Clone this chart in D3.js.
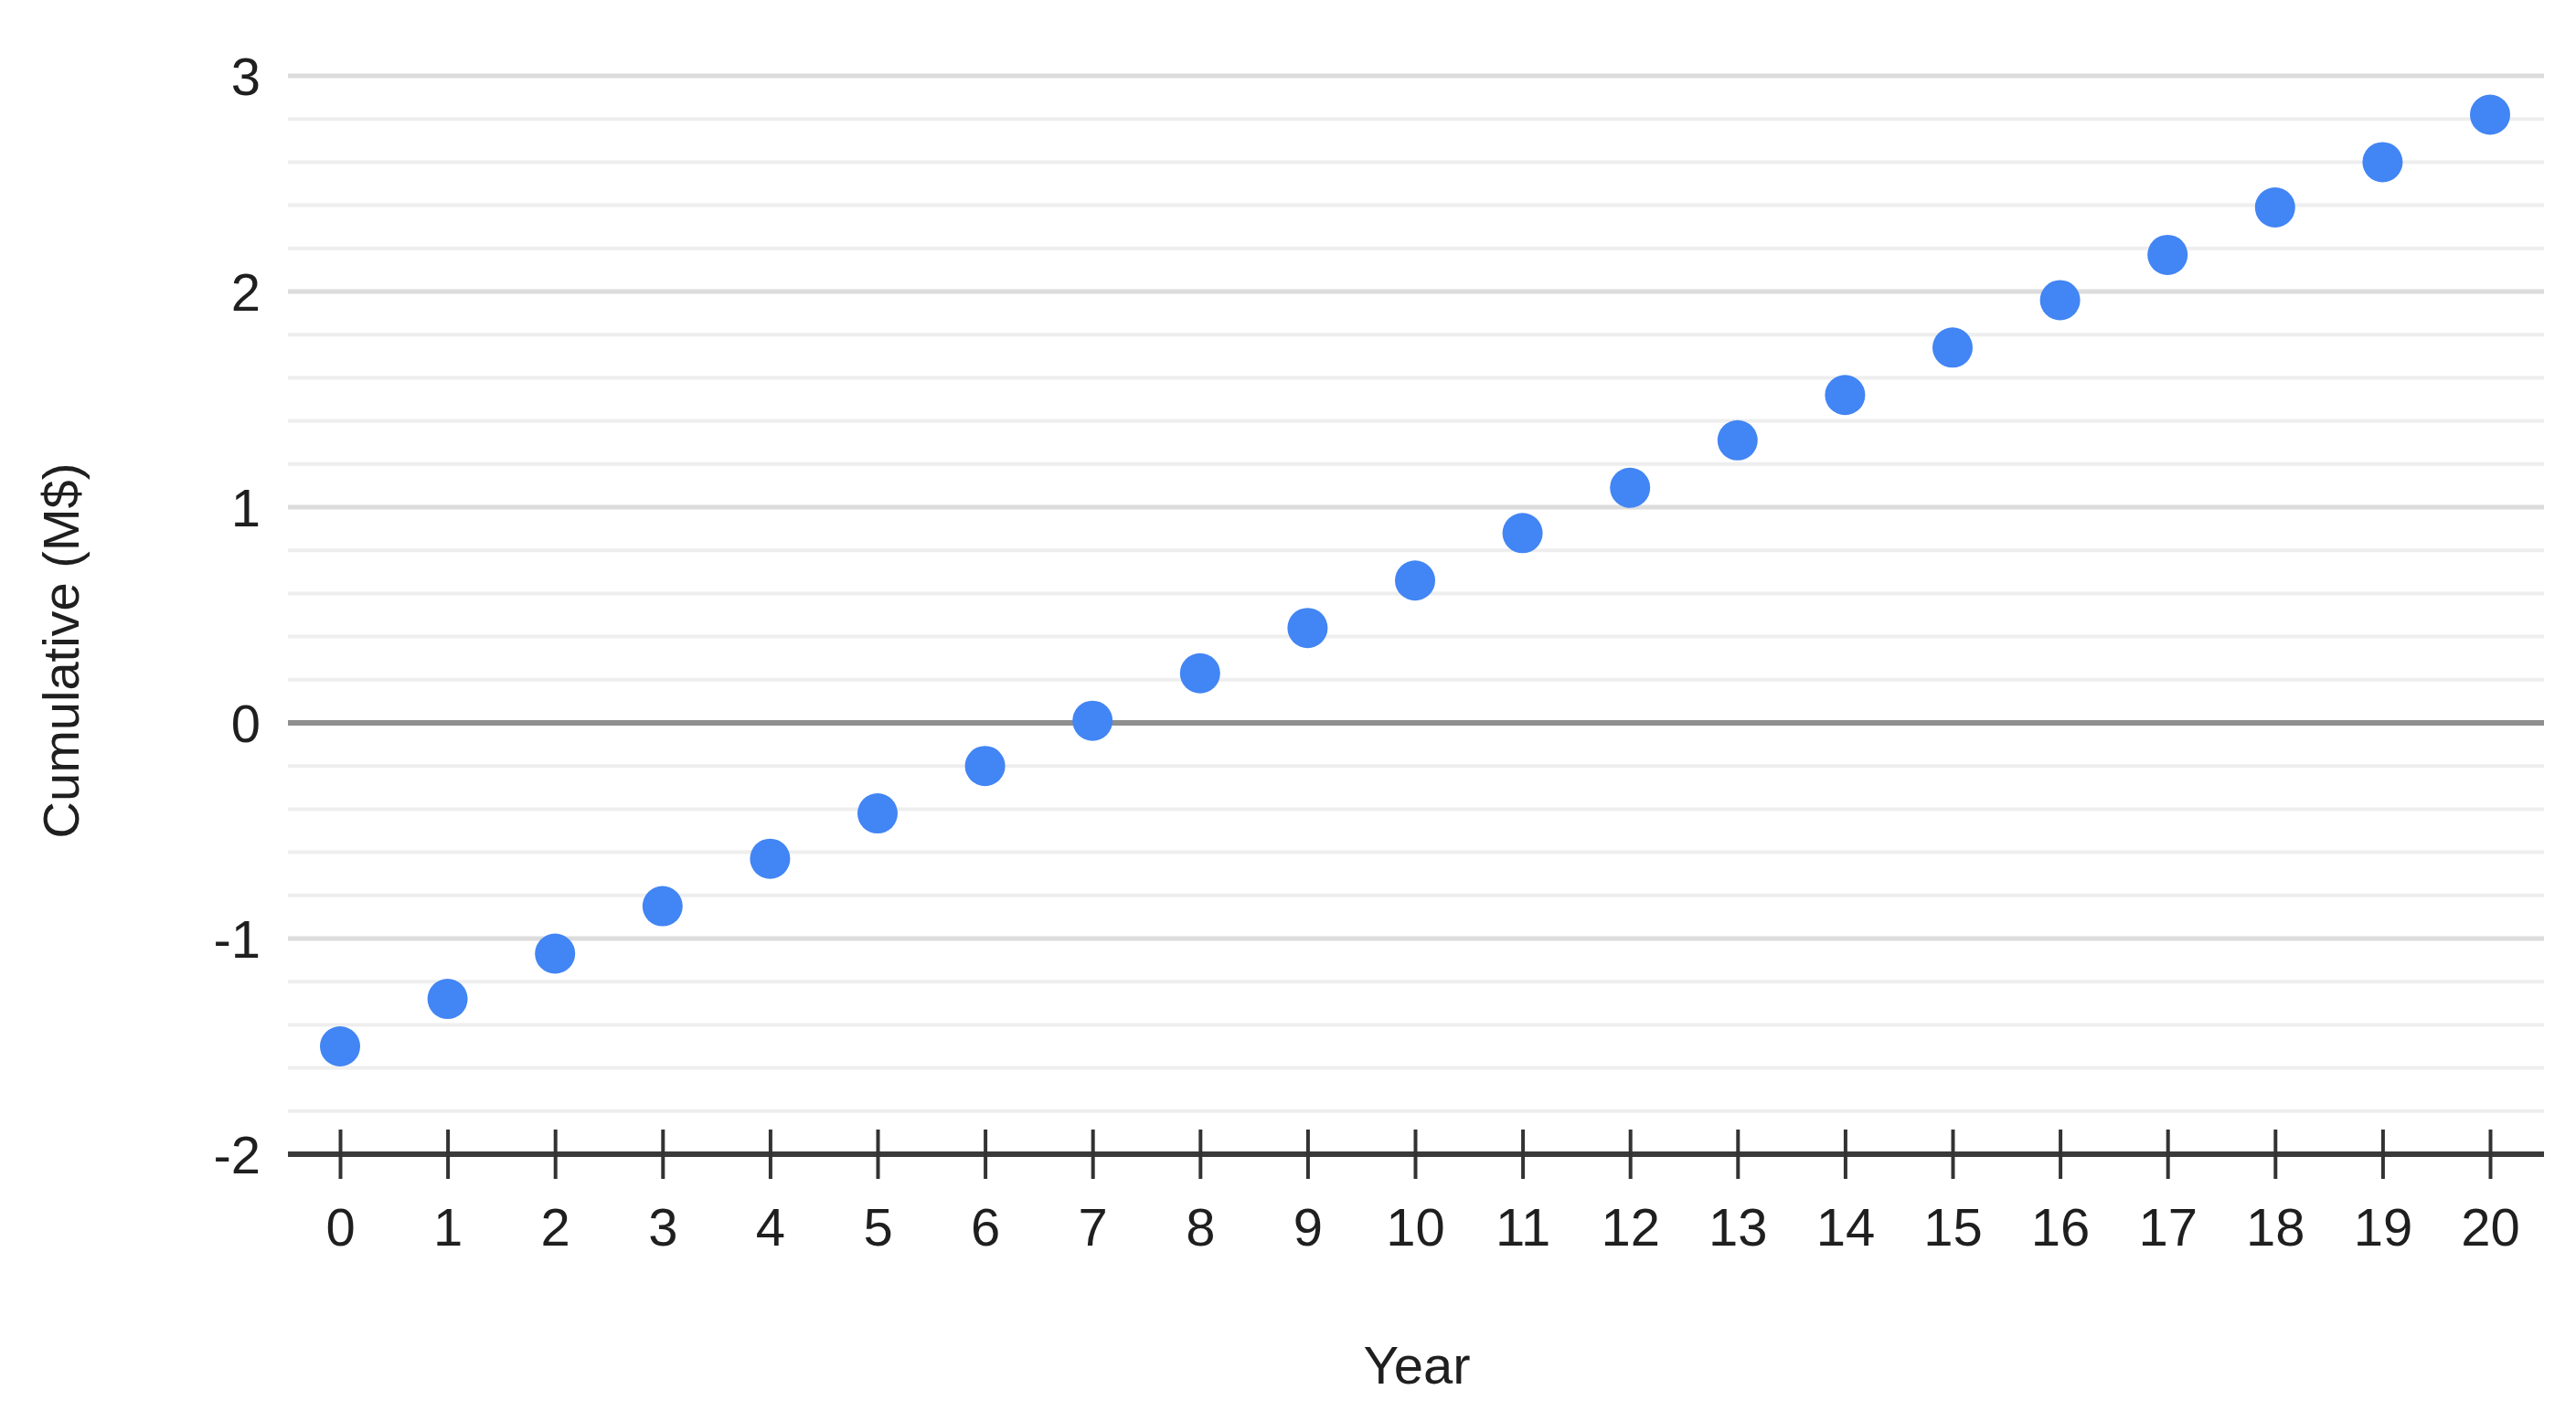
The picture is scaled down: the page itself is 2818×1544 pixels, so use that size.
<!DOCTYPE html>
<html>
<head>
<meta charset="utf-8">
<script src="https://cdn.jsdelivr.net/npm/d3@7"></script>
<style>
  html, body { margin: 0; padding: 0; background: #fff; }
  svg text { font-family: "Liberation Sans", Arial, sans-serif; fill: #1f1f1f; }
</style>
</head>
<body>
<svg id="chart" width="2818" height="1544"></svg>
<script>
// cumulative cash position (M$) by project year
const years = d3.range(0, 21);
const cumulative = [-1.5, -1.28, -1.07, -0.85, -0.63, -0.42, -0.2, 0.01, 0.23, 0.44,
  0.66, 0.88, 1.09, 1.31, 1.52, 1.74, 1.96, 2.17, 2.39, 2.6, 2.82];
const yMajorTicks = [-2, -1, 0, 1, 2, 3];
const xLabel = 'Year';
const yLabel = 'Cumulative (M$)';

const svg = d3.select('#chart');
const plotLeft = 315, plotRight = 2783;

let x = d3.scaleLinear()
  .domain([0, 20])
  .range([372, 2724]);

let y = d3.scaleLinear()
  .domain([-2, 3])
  .range([1263, 83]);

// minor gridlines every 0.2
svg.append('g')
  .selectAll('line')
  .data(y.ticks(25).filter(v => !yMajorTicks.includes(+v.toFixed(1))))
  .enter().append('line')
  .attr('x1', plotLeft).attr('x2', plotRight)
  .attr('y1', d => y(d)).attr('y2', d => y(d))
  .style('stroke', '#eeeeee')
  .style('stroke-width', 4);

// major gridlines
svg.append('g')
  .selectAll('line')
  .data(yMajorTicks.filter(v => v !== 0 && v !== -2))
  .enter().append('line')
  .attr('x1', plotLeft).attr('x2', plotRight)
  .attr('y1', d => y(d)).attr('y2', d => y(d))
  .style('stroke', '#dcdcdc')
  .style('stroke-width', 5);

// zero line
svg.append('line')
  .attr('x1', plotLeft).attr('x2', plotRight)
  .attr('y1', y(0)).attr('y2', y(0))
  .style('stroke', '#8f8f8f')
  .style('stroke-width', 6);

// y tick labels (plain hyphen for negatives)
let yAxis = svg.append('g')
  .attr('transform', 'translate(' + (plotLeft - 30) + ',0)')
  .call(d3.axisLeft(y).tickValues(yMajorTicks).tickSize(0).tickPadding(0).tickFormat(d => String(d)));
yAxis.select('.domain').remove();
yAxis.selectAll('text')
  .style('font-size', '58px')
  .attr('dy', '0.36em');

// x axis along y = -2
let xAxis = svg.append('g')
  .attr('transform', 'translate(0,' + y(-2) + ')')
  .call(d3.axisBottom(x).tickValues(years).tickSize(27).tickPadding(32).tickSizeOuter(0));
xAxis.select('.domain')
  .attr('d', 'M' + plotLeft + ',0H' + plotRight)
  .style('stroke', '#3a3a3a')
  .style('stroke-width', 6);
xAxis.selectAll('.tick line')
  .attr('y1', -27)
  .style('stroke', '#333')
  .style('stroke-width', 4);
xAxis.selectAll('text')
  .style('font-size', '58px')
  .style('fill', '#1f1f1f');

// points
svg.append('g')
  .selectAll('circle')
  .data(years)
  .enter().append('circle')
  .attr('cx', d => x(d))
  .attr('cy', (d, i) => y(cumulative[i]))
  .attr('r', 22)
  .style('fill', '#4285f4');

// axis titles
svg.append('text')
  .attr('x', 1550)
  .attr('y', 1514)
  .style('text-anchor', 'middle')
  .style('font-size', '58px')
  .text(xLabel);

svg.append('text')
  .attr('transform', 'translate(86,712) rotate(-90)')
  .style('text-anchor', 'middle')
  .style('font-size', '56px')
  .text(yLabel);
</script>
</body>
</html>
